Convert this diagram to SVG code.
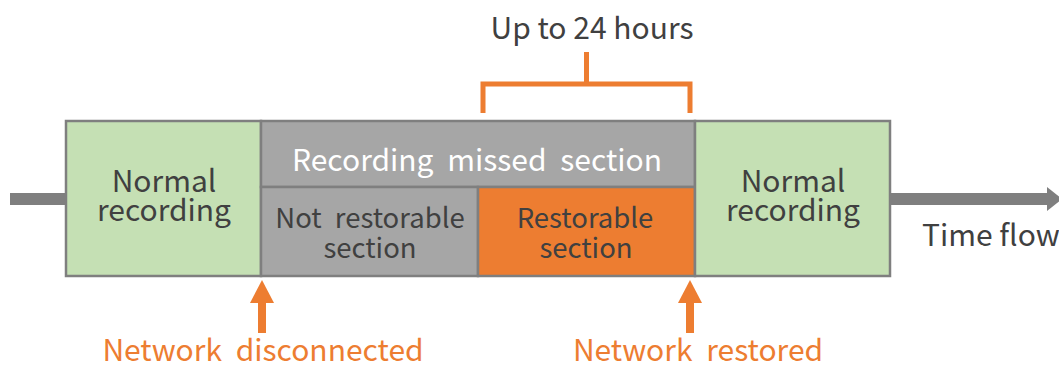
<svg xmlns="http://www.w3.org/2000/svg" width="1059" height="367" viewBox="0 0 1059 367">
<defs>
<style>
text{font-family:"Noto Sans CJK JP","Noto Sans",sans-serif;font-size:30px;text-anchor:middle;fill:#404040;word-spacing:7px}
.box{stroke:#7F7F7F;stroke-width:2.5}
.green{fill:#C5E0B4}
.gray{fill:#A6A6A6}
.orange{fill:#ED7D31}
.lbl{fill:#ED7D31}
.white{fill:#FFFFFF}
.sub{font-size:27.5px}
</style>
</defs>
<g id="timeline">
<rect x="10" y="193" width="57" height="12" fill="#7F7F7F"/>
<rect x="889" y="193" width="160" height="12" fill="#7F7F7F"/>
<polygon points="1047,187 1062,199 1047,211" fill="#7F7F7F"/>
</g>
<g id="normal-left">
<rect class="box green" x="66" y="121" width="195" height="155"/>
<text x="164" y="192">Normal</text>
<text x="164" y="221">recording</text>
</g>
<g id="missed">
<rect class="box gray" x="261" y="121" width="434" height="66"/>
<text class="white" x="477" y="171">Recording missed section</text>
</g>
<g id="not-restorable">
<rect class="box gray" x="261" y="187" width="217" height="89"/>
<text class="sub" x="370" y="228">Not restorable</text>
<text class="sub" x="370" y="258">section</text>
</g>
<g id="restorable">
<rect class="box orange" x="478" y="187" width="217" height="89"/>
<text class="sub" x="585" y="228">Restorable</text>
<text class="sub" x="586" y="258">section</text>
</g>
<g id="normal-right">
<rect class="box green" x="695" y="121" width="195" height="155"/>
<text x="793" y="192">Normal</text>
<text x="793" y="221">recording</text>
</g>
<g id="time-flow">
<text x="922" y="246" style="text-anchor:start;word-spacing:0">Time flow</text>
</g>
<g id="bracket">
<polyline points="483,113 483,84 690,84 690,113" fill="none" stroke="#ED7D31" stroke-width="5"/>
<line x1="586.5" y1="52" x2="586.5" y2="84" stroke="#ED7D31" stroke-width="5"/>
<text x="592" y="39" style="word-spacing:0">Up to 24 hours</text>
</g>
<g id="connectors">
<rect x="258" y="301" width="8" height="32" fill="#ED7D31"/>
<polygon points="262,280 274,303 250,303" fill="#ED7D31"/>
<rect x="686" y="301" width="8" height="32" fill="#ED7D31"/>
<polygon points="690,280 702,303 678,303" fill="#ED7D31"/>
</g>
<g id="net-disconnected">
<text class="lbl" x="263" y="361">Network disconnected</text>
</g>
<g id="net-restored">
<text class="lbl" x="698" y="361">Network restored</text>
</g>
</svg>
